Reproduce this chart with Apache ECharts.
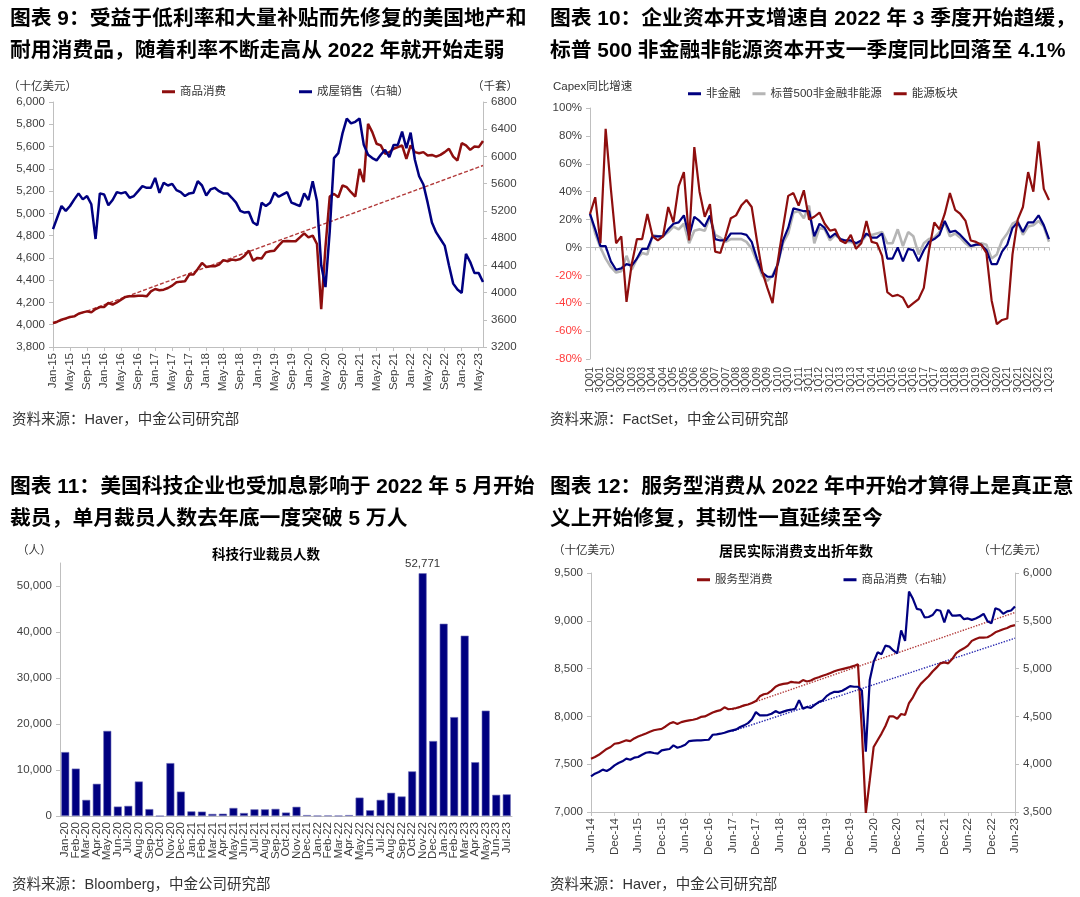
<!DOCTYPE html>
<html><head><meta charset="utf-8">
<script src="https://cdn.jsdelivr.net/npm/echarts@6/dist/echarts.min.js"></script>
<style>html,body{margin:0;padding:0;background:#fff}#c{width:1080px;height:897px}</style>
</head><body><div id="c"></div>
<script>
// ---------- categories ----------
const MON = ['Jan','Feb','Mar','Apr','May','Jun','Jul','Aug','Sep','Oct','Nov','Dec'];
function monthLabels(y, m, n){ const out=[]; for(let i=0;i<n;i++){ const k=m+i; out.push(MON[k%12]+'-'+String((y+Math.floor(k/12))%100).padStart(2,'0')); } return out; }
function quarterLabels(y, n){ const out=[]; for(let i=0;i<n;i++){ out.push((i%4+1)+'Q'+String((y+Math.floor(i/4))%100).padStart(2,'0')); } return out; }
const months1 = monthLabels(2015,0,102);   // Jan-15 .. Jun-23
const quarters2 = quarterLabels(2001,89);  // 1Q01 .. 1Q23
const months3 = monthLabels(2020,0,43);    // Jan-20 .. Jul-23
const months4 = monthLabels(2014,5,109);   // Jun-14 .. Jun-23

// ---------- chart 1 ----------
const goods1 = [
 4015,4027,4045,4057,4069,4075,4099,4111,4120,4111,4141,4159,
 4159,4195,4180,4200,4225,4250,4255,4255,4261,4261,4255,4300,
 4321,4310,4315,4330,4351,4381,4387,4390,4450,4450,4500,4555,
 4519,4525,4525,4540,4580,4570,4585,4580,4590,4620,4665,4575,
 4600,4595,4650,4660,4665,4710,4750,4752,4750,4750,4785,4820,
 4785,4800,4725,4140,4700,5150,5175,5145,5250,5235,5190,5150,
 5400,5280,5805,5730,5625,5610,5535,5550,5580,5595,5610,5490,
 5610,5550,5540,5550,5520,5525,5510,5525,5550,5580,5510,5475,
 5630,5610,5570,5600,5595,5650];
const homeSales1 = [
 4933,5103,5272,5200,5272,5369,5457,5369,5418,5297,4787,5457,
 5442,5282,5360,5476,5457,5476,5393,5418,5490,5563,5539,5539,
 5685,5466,5612,5573,5597,5505,5476,5418,5457,5466,5636,5573,
 5427,5515,5539,5490,5457,5457,5393,5321,5200,5175,5185,5030,
 4991,5321,5272,5321,5466,5408,5442,5476,5321,5297,5272,5457,
 5360,5636,5345,4400,4080,4900,5976,6048,6339,6557,6485,6509,
 6557,6170,6024,5976,5942,6024,6097,5990,6170,6170,6364,6121,
 6349,5951,5709,5588,5321,5030,4884,4787,4690,4400,4131,4044,
 3995,4569,4448,4286,4286,4155];
const trend1 = [4010, 5430]; // dashed trend, first and last month

// ---------- chart 2 ----------
const nonFin2 = [24,13,1,1,-10,-16,-15,-12,-13,-8,-1,-1,8,8,8,13,17,18,23,8,22,19,15,23,6,5,5,10,10,10,9,4,-8,-18,-21,-21,-12,5,14,28,27,26,26,8,17,14,7,10,6,5,5,3,5,10,7,7,10,-8,-8,0,-10,-1,-2,-10,-2,4,6,9,19,11,12,9,5,1,2,2,-2,-12,-12,-3,2,14,18,11,18,18,23,16,6];
const spx2 = [24,10,0,-8,-14,-18,-17,-6,-16,-8,-4,-5,9,8,8,11,15,13,17,3,12,13,12,22,9,7,4,6,6,6,4,-1,-10,-20,-24,-20,-12,3,10,25,26,21,30,3,14,13,5,9,6,4,4,2,4,9,9,10,11,3,3,13,1,11,8,-5,3,6,7,11,18,8,10,7,3,0,2,3,2,-8,-5,5,10,17,19,9,15,16,19,15,4.1];
const energy2 = [24,36,3,85,42,3,8,-39,-12,6,6,24,8,5,8,29,18,44,54,5,72,40,22,31,-3,-4,8,21,23,30,34,29,5,-17,-29,-40,-10,14,37,39,30,41,20,22,25,17,12,13,5,3,9,-1,3,19,4,3,-6,-32,-35,-34,-36,-43,-40,-37,-29,-2,18,13,24,39,27,24,19,5,4,2,-4,-38,-55,-52,-51,-5,20,29,54,40,76,42,34];

// ---------- chart 3 ----------
const layoffs3 = [13900,10300,3500,7000,18500,2050,2200,7500,1500,0,11500,5300,1000,950,450,500,1750,650,1450,1450,1550,750,2000,200,50,100,50,200,4000,1250,3500,5050,4250,9700,52771,16300,41800,21500,39200,11700,22900,4600,4700];

// ---------- chart 4 ----------
const services4 = [
 7558,7575,7598,7630,7660,7680,7714,7720,7735,7750,
 7742,7770,7790,7805,7822,7840,7855,7863,7870,7895,
 7925,7940,7920,7940,7950,7958,7965,7976,7995,8000,
 8020,8040,8055,8065,8095,8075,8080,8088,8100,8115,
 8125,8140,8160,8210,8232,8240,8270,8310,8330,8340,
 8345,8362,8355,8352,8380,8365,8375,8397,8410,8425,
 8438,8455,8472,8485,8495,8505,8515,8528,8545,7850,
 6990,7330,7680,7750,7820,7900,8000,8000,7975,8025,
 8015,8140,8200,8280,8340,8380,8420,8470,8510,8555,
 8565,8555,8600,8660,8690,8712,8740,8790,8810,8825,
 8825,8828,8850,8880,8895,8912,8925,8945,8955];
const goods4 = [
 3873,3901,3918,3943,3929,3953,3988,4012,4030,4058,
 4047,4068,4075,4099,4120,4127,4117,4110,4145,4152,
 4159,4197,4172,4186,4204,4242,4246,4249,4249,4253,
 4256,4308,4312,4319,4329,4343,4354,4364,4389,4406,
 4430,4470,4545,4510,4510,4514,4528,4556,4535,4550,
 4563,4570,4580,4670,4580,4598,4590,4620,4650,4667,
 4712,4740,4757,4757,4768,4792,4817,4810,4810,4770,
 4130,4880,5070,5170,5150,5240,5230,5190,5160,5400,
 5290,5805,5730,5625,5615,5535,5540,5560,5615,5605,
 5482,5615,5555,5555,5560,5517,5525,5510,5525,5545,
 5573,5495,5475,5632,5615,5573,5598,5608,5650];
const trendSvc4 = [8070, 9087];   // dotted trend from Jun-17 to Jun-23
const trendGoods4 = [4345, 5318];

// ---------- styling ----------
const FONT = '"Liberation Sans", Arial, "Noto Sans CJK SC", sans-serif';
const AX = '#bfbfbf', LBL = '#404040';
const RED = '#8E0E0E', NAVY = '#000080', GRAY = '#B5B5B5';
const comma = v => String(v).replace(/\B(?=(\d{3})+(?!\d))/g, ',');

function xCat(grid, data, opt){
  return Object.assign({gridIndex:grid, type:'category', data:data, boundaryGap:false,
    axisLine:{lineStyle:{color:AX}}, axisTick:{lineStyle:{color:AX}, length:4},
    axisLabel:{rotate:90, fontSize:11.5, color:LBL, fontFamily:FONT, margin:6}}, opt);
}
function yVal(grid, min, max, interval, pos, fmt, extra){
  return Object.assign({gridIndex:grid, type:'value', min:min, max:max, interval:interval, position:pos,
    splitLine:{show:false}, axisLine:{show:true, lineStyle:{color:AX}}, axisTick:{show:true, length:4, lineStyle:{color:AX}},
    axisLabel:{fontSize:11.5, color:LBL, fontFamily:FONT, margin:8, formatter:fmt}}, extra||{});
}
function txt(text, left, top, size, bold, extra){
  return Object.assign({text:text, left:left, top:top, padding:0,
    textStyle:{fontSize:size, fontWeight:bold?'bold':'normal', color:bold?'#000':'#333', fontFamily:FONT}}, extra||{});
}
function bigTitle(text, left, top){
  return {text:text, left:left, top:top, padding:0,
    textStyle:{fontSize:20.8, fontWeight:'bold', color:'#000', lineHeight:32, fontFamily:FONT}};
}
const lineS = (name, x, y, data, color, w, z) => ({name, type:'line', xAxisIndex:x, yAxisIndex:y, data, symbol:'none',
  lineStyle:{color, width:w}, itemStyle:{color}, z:z||2, silent:true});
const trendS = (name, x, y, cats, i0, i1, vals, color, type) => ({name, type:'line', xAxisIndex:x, yAxisIndex:y,
  data:[[cats[i0], vals[0]],[cats[i1], vals[1]]], symbol:'none', lineStyle:{color, width:1.4, type}, z:1, silent:true});

const option = {
  animation:false,
  backgroundColor:'#fff',
  textStyle:{fontFamily:FONT},
  title:[
    bigTitle('图表 9：受益于低利率和大量补贴而先修复的美国地产和\n耐用消费品，随着利率不断走高从 2022 年就开始走弱', 10, 3),
    bigTitle('图表 10：企业资本开支增速自 2022 年 3 季度开始趋缓，\n标普 500 非金融非能源资本开支一季度同比回落至 4.1%', 550, 3),
    bigTitle('图表 11：美国科技企业也受加息影响于 2022 年 5 月开始\n裁员，单月裁员人数去年底一度突破 5 万人', 10, 471),
    bigTitle('图表 12：服务型消费从 2022 年中开始才算得上是真正意\n义上开始修复，其韧性一直延续至今', 550, 471),
    txt('资料来源：Haver，中金公司研究部', 12, 413, 14.5),
    txt('资料来源：FactSet，中金公司研究部', 550, 413, 14.5),
    txt('资料来源：Bloomberg，中金公司研究部', 12, 878, 14.5),
    txt('资料来源：Haver，中金公司研究部', 550, 878, 14.5),
    txt('（十亿美元）', 8, 81, 11.5),
    txt('（千套）', 472, 81, 11.5),
    txt('Capex同比增速', 553, 81, 11.5),
    txt('（人）', 17, 545, 11.5),
    txt('科技行业裁员人数', 212, 549, 13.5, true),
    txt('居民实际消费支出折年数', 719, 545, 14, true),
    txt('（十亿美元）', 553, 545, 11.5),
    txt('（十亿美元）', 978, 545, 11.5)
  ],
  legend:[
    {data:['商品消费','成屋销售（右轴）'], left:157, top:81, icon:'rect', itemWidth:13, itemHeight:3, itemGap:73,
     textStyle:{fontSize:11.5, color:'#333', fontFamily:FONT}, selectedMode:false},
    {data:['非金融','标普500非金融非能源','能源板块'], left:683, top:83, icon:'rect', itemWidth:13, itemHeight:3, itemGap:12,
     textStyle:{fontSize:11.5, color:'#333', fontFamily:FONT}, selectedMode:false},
    {data:['服务型消费','商品消费（右轴）'], left:692, top:569, icon:'rect', itemWidth:13, itemHeight:3, itemGap:71,
     textStyle:{fontSize:11.5, color:'#333', fontFamily:FONT}, selectedMode:false}
  ],
  grid:[
    {left:53, top:102, width:430, height:245},
    {left:590, top:108, width:459, height:251},
    {left:60, top:563, width:452, height:253},
    {left:591, top:573, width:424, height:239}
  ],
  xAxis:[
    xCat(0, months1, {axisTick:{interval:3, length:4, lineStyle:{color:AX}}, axisLabel:{interval:3, rotate:90, fontSize:11.5, color:LBL, fontFamily:FONT, margin:6}}),
    xCat(1, quarters2, {position:'bottom', axisLine:{show:false, onZero:false}, axisTick:{show:false},
      axisLabel:{interval:1, rotate:90, fontSize:10.5, color:LBL, fontFamily:FONT, margin:8, showMinLabel:true, showMaxLabel:true}}),
    xCat(1, quarters2, {position:'bottom', axisLine:{show:true, onZero:true, lineStyle:{color:AX}},
      axisTick:{show:true, interval:0, length:3, lineStyle:{color:AX}}, axisLabel:{show:false}}),
    xCat(2, months3, {boundaryGap:true, axisTick:{show:false}, axisLabel:{interval:0, rotate:90, fontSize:11.5, color:LBL, fontFamily:FONT, margin:6, showMinLabel:true, showMaxLabel:true}}),
    xCat(3, months4, {axisTick:{interval:5, length:4, lineStyle:{color:AX}}, axisLabel:{interval:5, rotate:90, fontSize:11.5, color:LBL, fontFamily:FONT, margin:6, showMinLabel:true, showMaxLabel:true}})
  ],
  yAxis:[
    yVal(0, 3800, 6000, 200, 'left', v => comma(v)),
    yVal(0, 3200, 6800, 400, 'right', v => String(v)),
    yVal(1, -80, 100, 20, 'left', v => v < 0 ? '{n|' + v + '%}' : v + '%',
      {axisLabel:{fontSize:11.5, color:LBL, fontFamily:FONT, margin:8,
        formatter: v => v < 0 ? '{n|' + v + '%}' : v + '%',
        rich:{n:{color:'#FF3B3B', fontSize:11.5, fontFamily:FONT}}}}),
    yVal(2, 0, 55000, 10000, 'left', v => comma(v), {axisLabel:{fontSize:11.5, color:LBL, fontFamily:FONT, margin:8, showMaxLabel:false, formatter: v => comma(v)}}),
    yVal(3, 7000, 9500, 500, 'left', v => comma(v)),
    yVal(3, 3500, 6000, 500, 'right', v => comma(v))
  ],
  series:[
    trendS('trend1', 0, 0, months1, 0, 101, trend1, '#B23A3A', [4,2]),
    lineS('商品消费', 0, 0, goods1, RED, 2.5, 2),
    lineS('成屋销售（右轴）', 0, 1, homeSales1, NAVY, 2.5, 3),

    lineS('非金融', 1, 2, nonFin2, NAVY, 2.2, 3),
    lineS('标普500非金融非能源', 1, 2, spx2, GRAY, 2.6, 2),
    lineS('能源板块', 1, 2, energy2, RED, 2.2, 4),

    {name:'科技行业裁员人数', type:'bar', xAxisIndex:3, yAxisIndex:3, barWidth:8, silent:true,
     itemStyle:{color:NAVY, borderColor:'#7070B8', borderWidth:0.6},
     data: layoffs3.map(v => v === Math.max(...layoffs3)
        ? {value:v, label:{show:true, position:'top', distance:4, formatter:p => comma(p.value), fontSize:11.5, color:'#333', fontFamily:FONT}}
        : v)},

    trendS('trendSvc4', 4, 4, months4, 36, 108, trendSvc4, '#B23A3A', 'dotted'),
    trendS('trendGoods4', 4, 5, months4, 36, 108, trendGoods4, '#2828B0', 'dotted'),
    lineS('服务型消费', 4, 4, services4, RED, 2.2, 2),
    lineS('商品消费（右轴）', 4, 5, goods4, NAVY, 2.2, 3)
  ]
};
const chart = echarts.init(document.getElementById('c'), null, {renderer:'canvas'});
chart.setOption(option);
</script>
</body></html>
